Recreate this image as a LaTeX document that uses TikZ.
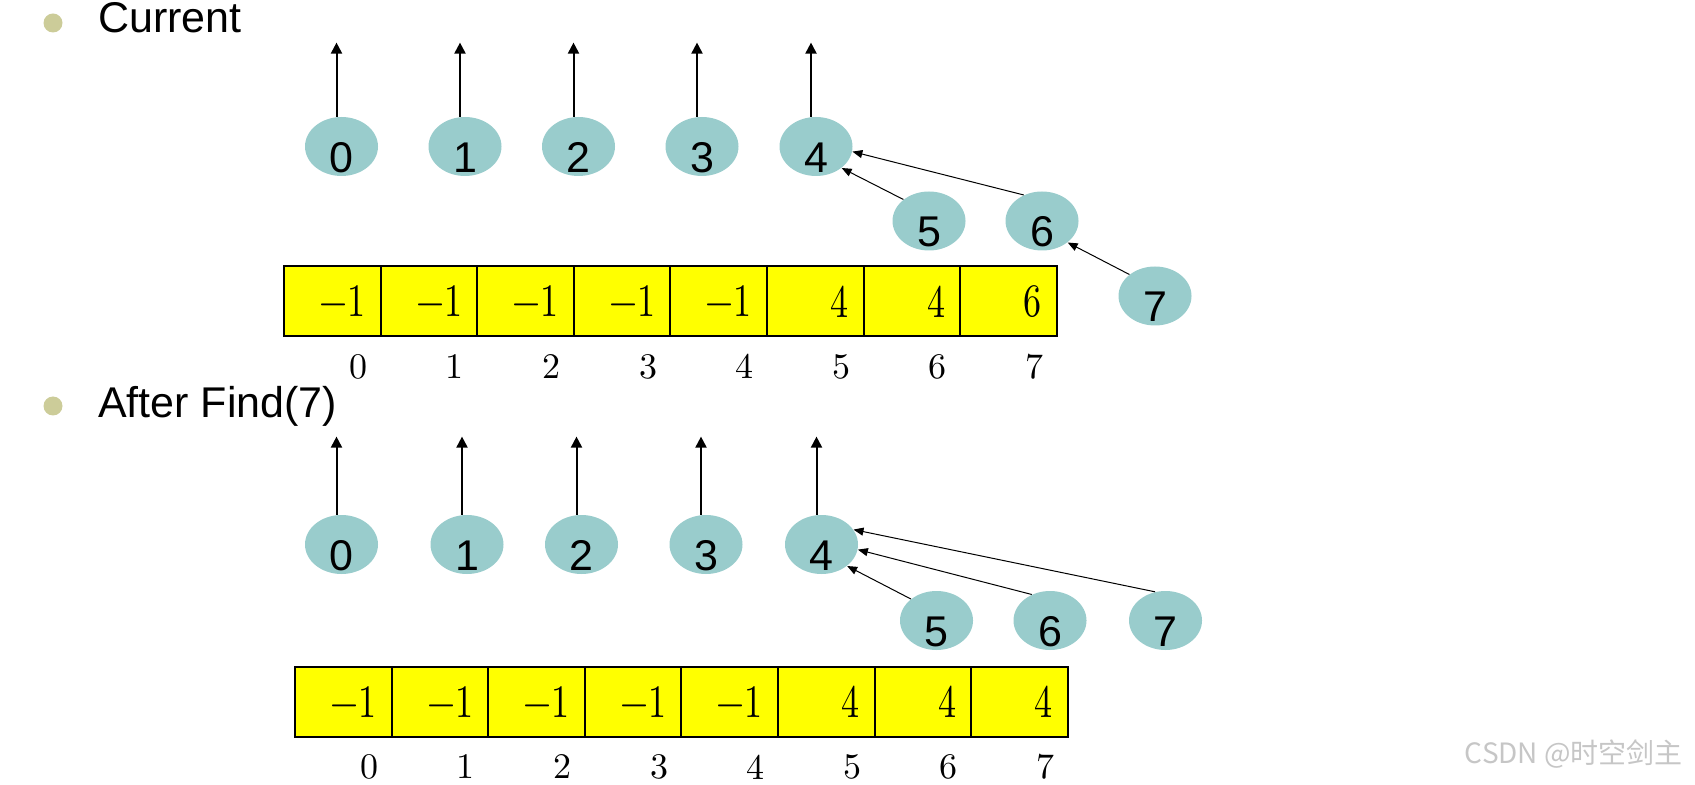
\documentclass[tikz,border=0pt]{standalone}
\usepackage{graphicx}
\usepackage{fontspec}
\newfontfamily\arialfont{Liberation Sans}
\newfontfamily\cjkfont{Noto Sans CJK SC}
\newfontfamily\cmten{lmroman10-regular}[Extension=.otf]
\usetikzlibrary{positioning, arrows.meta, shapes.geometric}

\definecolor{vertfill}{RGB}{153,204,204}
\definecolor{bulletfill}{RGB}{204,204,153}
\definecolor{cellfill}{RGB}{255,255,0}

\newcommand{\lowdigit}[1]{\raisebox{-13pt}[0pt][0pt]{#1}}
\newcommand{\cellnum}[1]{\scalebox{0.87}[1.12]{#1}}

\tikzset{
  vert/.style={ellipse, fill=vertfill, inner sep=0pt, minimum width=36.5pt, minimum height=29.5pt, font=\arialfont\fontsize{21.5}{24}\selectfont},
  cell/.style={draw, line width=1pt, fill=cellfill, minimum height=35pt, inner xsep=7.5pt, text width=33.3pt, align=right, font=\cmten\fontsize{20.74}{24}\selectfont},
  idx/.style={font=\cmten\fontsize{18}{20}\selectfont},
  title/.style={anchor=base west, font=\arialfont\fontsize{21.5}{24}\selectfont},
  bulletdot/.style={circle, fill=bulletfill, inner sep=0pt, minimum size=9.5pt},
  parent/.style={-{Triangle[width=4pt,length=5pt]}, line width=0.5pt},
  root/.style={-{Triangle[width=5.5pt,length=5.5pt]}, line width=1pt},
}

\begin{document}
\begin{tikzpicture}[x=0.5pt, y=-0.5pt]
    \useasboundingbox (0,0) rectangle (1695,785);

    % Current
    \node[bulletdot] (b1) at (53,23) {};
    \node[title] (cur) at (91,33) {Current};

    \foreach \x/\y [count=\i from 0] in {341.5/146.5, 465/146.5, 578.5/146.5, 702/146.5, 816/146.5, 929/221, 1042/221, 1155/296}
        \node[vert] (n\i) at (\x,\y) {\lowdigit{\i}};

    % roots
    \foreach \i in {0,...,4}
        \draw[root] ([xshift=-2.5pt]n\i.north) -- ++(0,-74);

    % parent links
    \draw[parent] (n5.140) -- (n4.320);
    \draw[parent] (n6.125) -- (n4.352);
    \draw[parent] (n7.140) -- (n6.320);

    % array
    \foreach \v [count=\i from 0] in {−1,−1,−1,−1,−1,4,4,6} {
        \node[cell] (a\i) at (332.3+96.6*\i,301.5) {\cellnum{\v}};
        \node[idx] (ai\i) at ([xshift=13pt,yshift=-14.5pt]a\i.south) {\i};
    }

    % After Find(7)
    \node[bulletdot] (b2) at (53,406) {};
    \node[title] (aft) at (91,418) {After Find(7)};

    \foreach \x/\y [count=\i from 0] in {341.5/544.5, 467/544.5, 581.5/544.5, 706/544.5, 821.5/544.5, 936.5/620.5, 1050/620.5, 1165.5/620.5}
        \node[vert] (m\i) at (\x,\y) {\lowdigit{\i}};

    \foreach \i in {0,...,4}
        \draw[root] ([xshift=-2.5pt]m\i.north) -- ++(0,-78);

    \draw[parent] (m5.140) -- (m4.320);
    \draw[parent] (m6.125) -- (m4.352);
    \draw[parent] (m7.110) -- (m4.25);

    \foreach \v [count=\i from 0] in {−1,−1,−1,−1,−1,4,4,4} {
        \node[cell] (c\i) at (343.3+96.6*\i,702) {\cellnum{\v}};
        \node[idx] (ci\i) at ([xshift=13pt,yshift=-14.5pt]c\i.south) {\i};
    }

    \node[anchor=east, text=gray!45, font=\cjkfont\fontsize{14}{16}\selectfont] (wm) at (1690,754) {CSDN @时空剑主};

\end{tikzpicture}
\end{document}
